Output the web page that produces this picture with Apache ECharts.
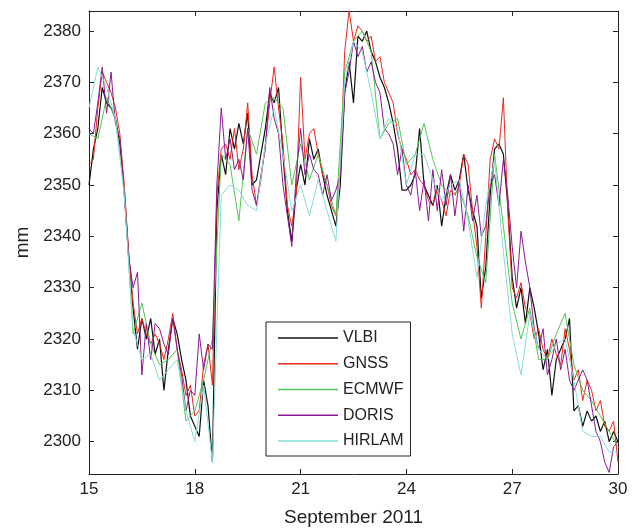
<!DOCTYPE html>
<html lang="en">
<head>
    <meta charset="UTF-8">
    <title>Zenith delay comparison</title>
    <style>
        html, body { margin: 0; padding: 0; background: #fff; }
        #chart { width: 639px; height: 530px; }
    </style>
</head>
<body>
<div id="chart"></div>
<script src="https://cdn.jsdelivr.net/npm/echarts@6/dist/echarts.min.js"></script>
<script>
    // 3-hourly series (15.000 .. 30.000, step 1/8 day)
    var vlbi = [
        2350, 2357, 2361, 2369, 2366, 2365, 2363, 2358,
        2349, 2336, 2326, 2318, 2324, 2320, 2324, 2317,
        2320, 2310, 2318, 2324, 2321, 2316, 2312, 2305,
        2303, 2301, 2312, 2307, 2296, 2345, 2356, 2352,
        2361, 2357, 2362, 2358, 2364, 2350, 2351, 2356,
        2361, 2368, 2366, 2369, 2356, 2345, 2339, 2349,
        2354, 2350, 2359, 2355, 2357, 2352, 2348, 2345,
        2342, 2350, 2368, 2374, 2366, 2379, 2378, 2380,
        2376, 2374, 2371, 2369, 2366, 2362, 2357, 2349,
        2349, 2350, 2352, 2361, 2350, 2348, 2346, 2350,
        2342, 2348, 2352, 2349, 2351, 2356, 2349, 2345,
        2342, 2328, 2334, 2348, 2357, 2358, 2356, 2346,
        2332, 2326, 2330, 2323, 2330, 2326, 2321, 2314,
        2318, 2309, 2316, 2318, 2320, 2324, 2306, 2307,
        2303, 2306, 2304, 2305, 2302, 2304, 2300, 2302,
        2300
    ];
    var gnss = [
        2354, 2355, 2365, 2372, 2370, 2368, 2365, 2360,
        2350, 2337, 2327, 2321, 2324, 2321, 2319, 2321,
        2319, 2316, 2320, 2325, 2318, 2314, 2309, 2311,
        2305, 2306, 2315, 2319, 2311, 2348, 2357, 2358,
        2355, 2361, 2353, 2357, 2366, 2352, 2346, 2351,
        2358, 2366, 2373, 2365, 2358, 2346, 2342, 2348,
        2371, 2355, 2360, 2361, 2356, 2352, 2350, 2346,
        2344, 2353, 2376, 2384, 2378, 2381, 2380, 2378,
        2379, 2374, 2375, 2370, 2368, 2366, 2360, 2357,
        2355, 2352, 2353, 2351, 2350, 2347, 2346, 2349,
        2347, 2344, 2349, 2348, 2350, 2356, 2354, 2345,
        2338, 2326, 2340, 2355, 2359, 2357, 2367, 2345,
        2330, 2328, 2331, 2326, 2325, 2320, 2322, 2318,
        2316, 2320, 2317, 2315, 2322, 2318, 2312, 2314,
        2308, 2312, 2310, 2306, 2308, 2303, 2302, 2304,
        2296
    ];
    var doris = [
        2361, 2360, 2366, 2373, 2364, 2372, 2362, 2359,
        2348, 2336, 2330, 2333, 2313, 2323, 2316, 2323,
        2322, 2319, 2317, 2324, 2318, 2313, 2306, 2310,
        2309, 2321, 2314, 2319, 2318, 2350, 2365, 2355,
        2359, 2353, 2355, 2351, 2361, 2349, 2346, 2352,
        2357, 2369, 2363, 2360, 2350, 2344, 2338, 2352,
        2361, 2352, 2356, 2353, 2352, 2348, 2352, 2347,
        2349, 2352, 2368, 2372, 2378, 2375, 2377, 2372,
        2374, 2370, 2368, 2361, 2360, 2358, 2352, 2357,
        2350, 2348, 2353, 2345, 2351, 2343, 2353, 2345,
        2353, 2346, 2352, 2344, 2351, 2341, 2350, 2343,
        2348, 2340, 2342, 2350, 2352, 2346, 2355, 2348,
        2338, 2330, 2341, 2335, 2330, 2322, 2318, 2322,
        2313, 2316, 2320, 2314, 2318, 2312, 2310, 2312,
        2314, 2312, 2307, 2302, 2300, 2296, 2294, 2299,
        2300
    ];
    // 6-hourly model series (15.00 .. 30.00, step 1/4 day)
    var ecmwf = [
        2360, 2359, 2367, 2363, 2349, 2321, 2327, 2319,
        2315, 2316, 2318, 2304, 2306, 2312, 2320, 2356,
        2354, 2343, 2361, 2356, 2366, 2367, 2365, 2350,
        2358, 2351, 2356, 2350, 2344, 2372, 2378, 2380,
        2376, 2359, 2362, 2363, 2354, 2356, 2362, 2355,
        2350, 2348, 2349, 2344, 2336, 2331, 2356, 2342,
        2327, 2320, 2326, 2316, 2316, 2321, 2325, 2315,
        2310, 2308, 2305, 2302, 2299
    ];
    var hirlam = [
        2365, 2373, 2369, 2363, 2348, 2322, 2316, 2317,
        2312, 2314, 2316, 2306, 2300, 2311, 2296, 2348,
        2350, 2349, 2346, 2345, 2358, 2365, 2356, 2345,
        2350, 2344, 2351, 2345, 2339, 2370, 2378, 2376,
        2368, 2359, 2363, 2361, 2350, 2356, 2356, 2351,
        2347, 2350, 2351, 2343, 2332, 2346, 2355, 2337,
        2321, 2313, 2325, 2318, 2316, 2319, 2320, 2312,
        2302, 2301, 2301, 2298, 2298
    ];
    var names = ['VLBI', 'GNSS', 'ECMWF', 'DORIS', 'HIRLAM'];
    var colors = ['#111111', '#e8281c', '#52c652', '#8a1a8f', '#86dcd8'];

    var pairs = function (values, perDay) {
        var out = [];
        for (var i = 0; i < values.length; i++) {
            out.push([15 + i / perDay, values[i]]);
        }
        return out;
    };

    var font = 'Liberation Sans';
    var seriesData = [pairs(vlbi, 8), pairs(gnss, 8), pairs(ecmwf, 4), pairs(doris, 8), pairs(hirlam, 4)];

    var series = names.map(function (n, k) {
        return {
            name: n,
            type: 'line',
            symbol: 'none',
            xAxisIndex: 0,
            yAxisIndex: 0,
            data: seriesData[k],
            lineStyle: {color: colors[k], width: k === 0 ? 1.2 : 1},
            itemStyle: {color: colors[k]}
        };
    });

    var tickStyle = {show: true, inside: true, length: 5, lineStyle: {color: '#222'}};
    var lineStyle = {show: true, lineStyle: {color: '#222', width: 1}};

    var option = {
        animation: false,
        textStyle: {fontFamily: font},
        grid: {left: 89, right: 21, top: 11, bottom: 56, containLabel: false, outerBoundsMode: 'none'},
        legend: {
            orient: 'vertical',
            left: 266,
            top: 322,
            icon: 'rect',
            itemWidth: 60,
            itemHeight: 1.5,
            itemGap: 9.75,
            padding: [8, 7, 7, 12],
            backgroundColor: '#fff',
            borderColor: '#222',
            borderWidth: 1,
            textStyle: {fontFamily: font, fontSize: 16, color: '#222'},
            data: names
        },
        xAxis: [
            {
                type: 'value',
                min: 15,
                max: 30,
                interval: 3,
                name: 'September 2011',
                nameLocation: 'middle',
                nameGap: 34.5,
                nameTextStyle: {fontFamily: font, fontSize: 19, color: '#222'},
                axisLine: lineStyle,
                axisTick: tickStyle,
                axisLabel: {fontFamily: font, fontSize: 17, color: '#222', margin: 7},
                splitLine: {show: false}
            },
            {
                type: 'value',
                position: 'top',
                min: 15,
                max: 30,
                interval: 3,
                axisLine: lineStyle,
                axisTick: tickStyle,
                axisLabel: {show: false},
                splitLine: {show: false}
            }
        ],
        yAxis: [
            {
                type: 'value',
                min: 2293.7,
                max: 2383.9,
                splitNumber: 9,
                name: 'mm',
                nameLocation: 'middle',
                nameGap: 57,
                nameTextStyle: {fontFamily: font, fontSize: 19, color: '#222'},
                axisLine: lineStyle,
                axisTick: tickStyle,
                axisLabel: {
                    fontFamily: font, fontSize: 17, color: '#222', margin: 8,
                    formatter: function (v) {
                        return Math.abs(v % 10) < 1e-6 ? String(v) : '';
                    }
                },
                splitLine: {show: false}
            },
            {
                type: 'value',
                position: 'right',
                min: 2293.7,
                max: 2383.9,
                splitNumber: 9,
                axisLine: lineStyle,
                axisTick: tickStyle,
                axisLabel: {show: false},
                splitLine: {show: false}
            }
        ],
        series: series
    };

    var myChart = echarts.init(document.getElementById('chart'));
    myChart.setOption(option);
</script>
</body>
</html>
